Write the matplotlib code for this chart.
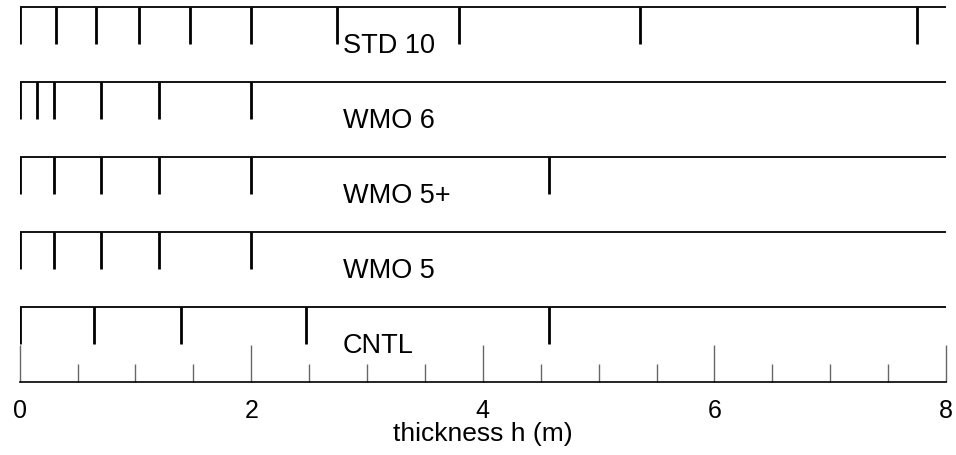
import matplotlib.pyplot as plt
from matplotlib.ticker import MultipleLocator

plt.rcParams['font.family'] = ['Liberation Sans', 'DejaVu Sans']

# category boundaries (m) for each scheme, top to bottom
schemes = ['STD 10', 'WMO 6', 'WMO 5+', 'WMO 5', 'CNTL']
std10 = [0, 0.31, 0.66, 1.03, 1.47, 2.0, 2.74, 3.79, 5.36, 7.75]
wmo6 = [0, 0.15, 0.3, 0.7, 1.2, 2.0]
wmo5p = [0, 0.3, 0.7, 1.2, 2.0, 4.57]
wmo5 = [0, 0.3, 0.7, 1.2, 2.0]
cntl = [0, 0.64, 1.39, 2.47, 4.57]
bounds = [std10, wmo6, wmo5p, wmo5, cntl]

xmax = 8
tick_len = 0.49
label_x = 2.79

fig = plt.figure(figsize=(9.56, 4.56), dpi=100)
ax = fig.add_axes([0.0206, 0.1594, 0.9689, 0.8406])

n = len(schemes)
for i, (name, b) in enumerate(zip(schemes, bounds)):
    level = n - 1 - i
    ax.plot([0, xmax], [level, level], color='black', lw=1.3, solid_capstyle='butt')
    ax.vlines(b, level - tick_len, level, color='black', lw=2.0)
    ax.text(label_x, level - 0.6, name, fontsize=19.5, va='baseline', ha='left')

ax.set_xlim(0, xmax)
ax.set_ylim(-1, n - 1 + 0.11)

for s in ['top', 'left', 'right']:
    ax.spines[s].set_visible(False)
ax.spines['bottom'].set_linewidth(1.2)
ax.set_yticks([])

ax.xaxis.set_major_locator(MultipleLocator(2))
ax.xaxis.set_minor_locator(MultipleLocator(0.5))
ax.tick_params(axis='x', which='major', direction='in', length=26.5, width=1.0,
               color='#666666', labelsize=18, pad=11.5)
ax.tick_params(axis='x', which='minor', direction='in', length=13, width=1.0,
               color='#666666')
ax.set_xlabel('thickness h (m)', fontsize=19, va='baseline')
ax.xaxis.set_label_coords(0.5, -0.151)

fig.savefig('out.png', dpi=100)
